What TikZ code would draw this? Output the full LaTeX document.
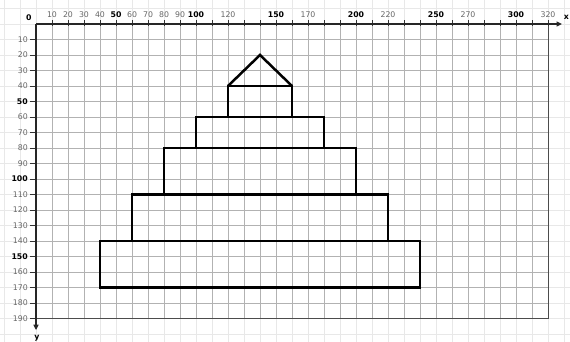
\documentclass[tikz,border=0pt]{standalone}
\usepackage{fontspec}
\setmainfont{DejaVu Sans}
\usetikzlibrary{arrows.meta}
\newcommand{\stage}[4]{ \draw[stageline] ( #1 , #2 ) rectangle ( #3 , #4 );}
\newcommand{\xlab}[2]{ \node[xlab, #2] (x#1) at ( #1 , -6 ) {#1};}
\newcommand{\ylab}[2]{ \node[ylab, #2] (y#1) at ( -5 , #1 ) {#1};}

\begin{document}
\begin{tikzpicture}[x=1.6pt, y=-1.55pt,
    faintgrid/.style={draw=black!9, line width=0.6pt},
    cellgrid/.style={draw=black!30, line width=0.6pt},
    framegray/.style={draw=black!70, line width=0.8pt},
    axisline/.style={draw=black!85, line width=1.3pt, -{Triangle[length=5.5pt,width=5pt]}},
    tickline/.style={draw=black!80, line width=0.6pt},
    stageline/.style={draw=black, line width=2.5pt, line join=miter},
    xlab/.style={font=\fontsize{7.8}{9}\selectfont, text=black!60, inner sep=0pt},
    ylab/.style={xlab, anchor=east},
    major/.style={text=black, font=\fontsize{7.8}{9}\selectfont\bfseries}]
    \useasboundingbox (-22.5,-15.48) rectangle (333.75,205.16);
    % faint background grid
    \foreach \gx in {-20,-10,...,330} \draw[faintgrid] (\gx,-15.48) -- (\gx,205.16);
    \foreach \gy in {-10,0,...,200} \draw[faintgrid] (-22.5,\gy) -- (333.75,\gy);
    % cell grid
    \foreach \gx in {10,20,...,310} \draw[cellgrid] (\gx,0) -- (\gx,190);
    \foreach \gy in {10,20,...,180} \draw[cellgrid] (0,\gy) -- (320,\gy);
    \draw[framegray] (320,0) -- (320,190) -- (0,190);
    % ticks
    \foreach \gx in {10,20,...,320} \draw[tickline] (\gx,-2.5) -- (\gx,1.5);
    \foreach \gy in {10,20,...,190} \draw[tickline] (-3.75,\gy) -- (0.5,\gy);
    % axes
    \coordinate (O) at (0,0);
    \coordinate (xend) at (328.75,0);
    \coordinate (yend) at (0,197.5);
    \draw[axisline] (O) -- (xend);
    \draw[axisline] (O) -- (yend);
    \node[xlab, major] (xname) at (331.5,-4) {x};
    \node[xlab, major] (yname) at (0.5,202.5) {y};
    \node[xlab, major] (origin) at (-4.4,-4.2) {0};
    % top labels
    \xlab{10}{} \xlab{20}{} \xlab{30}{} \xlab{40}{} \xlab{50}{major}
    \xlab{60}{} \xlab{70}{} \xlab{80}{} \xlab{90}{} \xlab{100}{major}
    \xlab{120}{} \xlab{150}{major} \xlab{170}{} \xlab{200}{major}
    \xlab{220}{} \xlab{250}{major} \xlab{270}{} \xlab{300}{major} \xlab{320}{}
    % left labels
    \ylab{10}{} \ylab{20}{} \ylab{30}{} \ylab{40}{} \ylab{50}{major}
    \ylab{60}{} \ylab{70}{} \ylab{80}{} \ylab{90}{} \ylab{100}{major}
    \ylab{110}{} \ylab{120}{} \ylab{130}{} \ylab{140}{} \ylab{150}{major}
    \ylab{160}{} \ylab{170}{} \ylab{180}{} \ylab{190}{}
    % pyramid
    \draw[stageline] (120,40) -- (140,20) -- (160,40);
    \stage{120}{40}{160}{60}
    \stage{100}{60}{180}{80}
    \stage{80}{80}{200}{110}
    \stage{60}{110}{220}{140}
    \stage{40}{140}{240}{170}
\end{tikzpicture}
\end{document}
